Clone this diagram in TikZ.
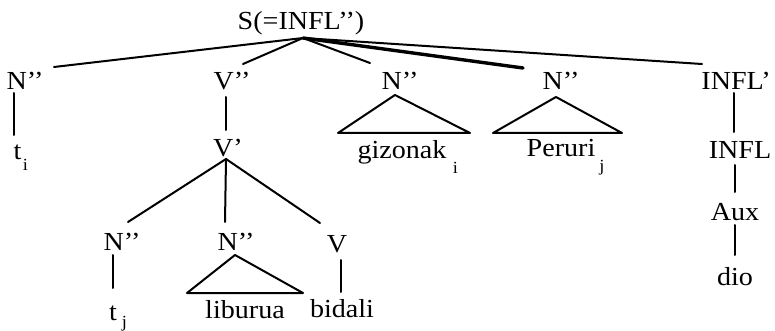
\documentclass[tikz,border=0pt]{standalone}
\usepackage{fontspec}
\setmainfont{Liberation Serif}[FakeStretch=1.08]
% lowered index after a word, kept out of the word's width
\newcommand{\idx}[3]{\rlap{\hspace{#2}\raisebox{#3}{\fontsize{17}{17}\selectfont #1}}}
\begin{document}
\begin{tikzpicture}[x=1pt,y=-1pt,
  lab/.style={inner sep=0pt, anchor=base, font=\fontsize{26}{28}\selectfont},
  br/.style={line width=2pt, line cap=round, line join=round},
  heavy/.style={line width=3.4pt, line cap=round}]
\useasboundingbox (0,0) rectangle (775,331);

% labels
\node[lab] (S)  at (301,30)  {S(=INFL’’)};
\node[lab] (N1) at (25,90)   {N’’};
\node[lab] (V2) at (232,90)  {V’’};
\node[lab] (N3) at (400,90)  {N’’};
\node[lab] (N4) at (561,90)  {N’’};
\node[lab] (I1) at (736,90)  {INFL’};
\node[lab] (T1) at (17.5,160) {t\idx{i}{1.5pt}{-10pt}};
\node[lab] (V1) at (228,157) {V’};
\node[lab] (G)  at (402,158) {gizonak\idx{i}{6.5pt}{-15pt}};
\node[lab] (P)  at (561,157) {Peruri\idx{j}{4pt}{-15pt}};
\node[lab] (I0) at (740,158) {INFL};
\node[lab] (A)  at (735,220) {Aux};
\node[lab] (D)  at (735,285) {dio};
\node[lab] (N5) at (122,250) {N’’};
\node[lab] (N6) at (236,250) {N’’};
\node[lab] (V0) at (337,252) {V};
\node[lab] (T2) at (113,320) {t\idx{j}{5pt}{-7pt}};
\node[lab] (L)  at (245,318) {liburua};
\node[lab] (B)  at (342,317) {bidali};

% branches from the root
\coordinate (top) at ([shift={(2,8)}]S.base);
\draw[br] (top) -- ([shift={(29,-23)}]N1.base);
\draw[br] (top) -- ([shift={(11,-26)}]V2.base);
\draw[br] (top) -- ([shift={(-30,-27)}]N3.base);
\draw[heavy] (top) -- ([shift={(-38,-22)}]N4.base);
\draw[br] (top) -- ([shift={(-34,-26)}]I1.base);

% single daughters
\draw[br] ([shift={(-11,3)}]N1.base) -- ([shift={(-3.5,-25)}]T1.base);
\draw[br] ([shift={(-6,7)}]V2.base) -- ([shift={(-2,-27)}]V1.base);
\draw[br] ([shift={(-2,3)}]I1.base) -- ([shift={(-6,-26)}]I0.base);
\draw[br] ([shift={(-5,7)}]I0.base) -- ([shift={(0,-28)}]A.base);
\draw[br] ([shift={(0,5)}]A.base) -- ([shift={(0,-30)}]D.base);
\draw[br] ([shift={(-9,5)}]N5.base) -- ([shift={(0,-32)}]T2.base);
\draw[br] ([shift={(4,8)}]V0.base) -- ([shift={(-1,-25)}]B.base);

% V' branches
\coordinate (vb) at ([shift={(-2,2)}]V1.base);
\draw[br] (vb) -- ([shift={(6,-28)}]N5.base);
\draw[br] (vb) -- ([shift={(-11,-28)}]N6.base);
\draw[br] (vb) -- ([shift={(-17,-29)}]V0.base);

% triangles over unanalysed phrases
\draw[br] ([shift={(-5,5)}]N3.base) -- ([shift={(-64,-25)}]G.base)
  -- ([shift={(68,-25)}]G.base) -- cycle;
\draw[br] ([shift={(-5,7)}]N4.base) -- ([shift={(-68,-24)}]P.base)
  -- ([shift={(61,-24)}]P.base) -- cycle;
\draw[br] ([shift={(-1,5)}]N6.base) -- ([shift={(-58,-25)}]L.base)
  -- ([shift={(58,-25)}]L.base) -- cycle;
\end{tikzpicture}
\end{document}
